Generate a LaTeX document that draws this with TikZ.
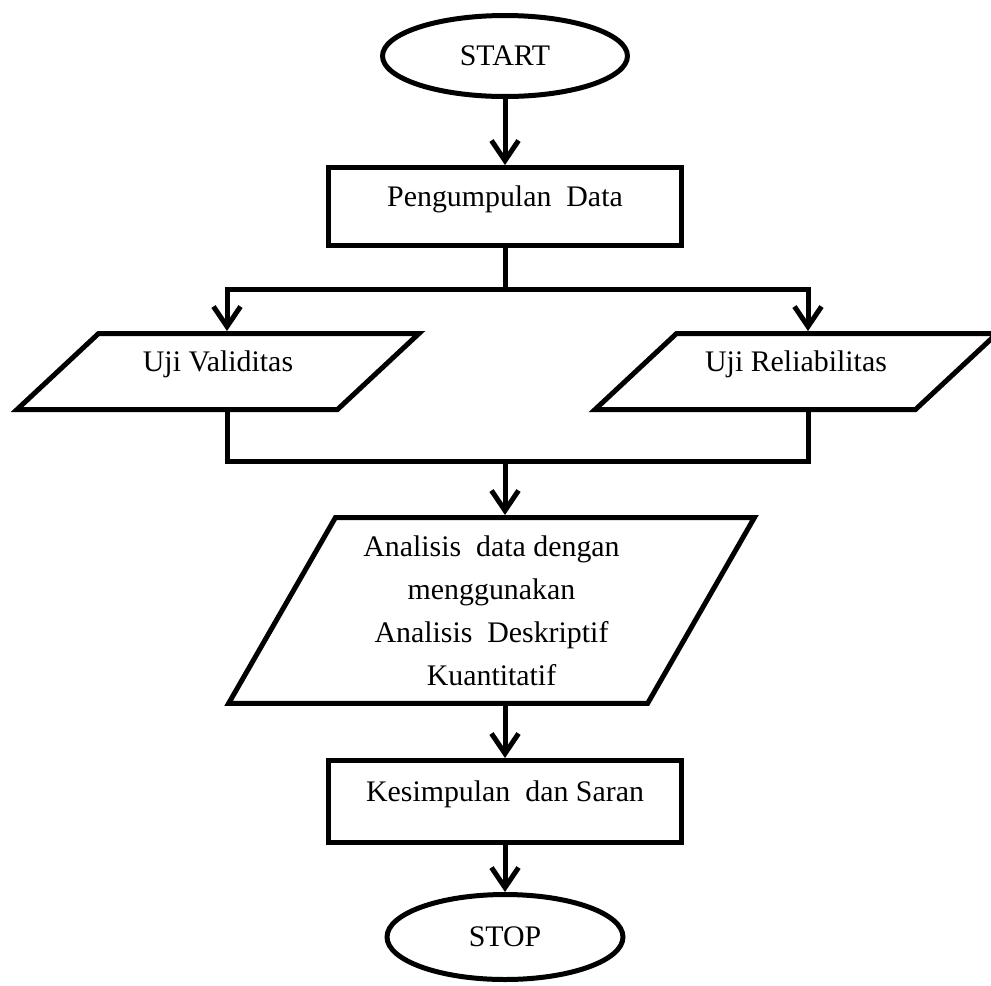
\documentclass[tikz,border=0pt]{standalone}
\usepackage{fontspec}
\setmainfont{Liberation Serif}
\usetikzlibrary{arrows.meta,shapes.geometric}
\usetikzlibrary{positioning}

\tikzset{
  flowline/.style={line width=0.1cm},
  flow/.style={flowline,-{Straight Barb[length=0.4cm,width=0.54cm]}},
  midtext/.style={text height=0.4cm,text depth=0.42cm},
  terminal/.style={draw,flowline,ellipse,inner sep=0pt,minimum width=4.9cm,minimum height=1.62cm},
  process/.style={draw,flowline,rectangle,inner sep=0pt,minimum width=7.08cm,minimum height=1.56cm,midtext},
  io/.style={draw,flowline,trapezium,trapezium left angle=43,trapezium right angle=137,
    trapezium stretches body,inner xsep=0pt,inner ysep=0.35cm,minimum width=8.04cm,minimum height=1.52cm}
}

\begin{document}
\begin{tikzpicture}[x=0.02cm,y=-0.02cm,font=\fontsize{17pt}{24.5pt}\selectfont]

           \useasboundingbox (0,0) rectangle (991,985);

           \node [terminal] (start) at (505,56){START};
           \node [process] (data) at (505,206.5){Pengumpulan~ Data};

           \node [io,midtext] (valid) at (218,371.5){Uji Validitas};
           \node [io,midtext] (relia) at (796,371.5){Uji Reliabilitas};

           \node [io,align=center,trapezium left angle=60,trapezium right angle=120,
                  minimum width=10.52cm,minimum height=3.72cm] (analisis) at (491.5,610.5)
                 {Analisis~ data dengan\\ menggunakan\\ Analisis~ Deskriptif\\ Kuantitatif};

           \node [process,minimum height=1.64cm] (kes) at (505,801.5){Kesimpulan~ dan Saran};
           \node [terminal,minimum width=4.72cm,minimum height=1.7cm] (stop) at (505,937){STOP};

           \coordinate (fork) at (505,289);
           \coordinate (forkL) at (227,289);
           \coordinate (forkR) at (808,289);
           \coordinate (merge) at (505,461);

           \draw [flow] (start) -- (data);

           \draw [flowline] (data) -- (fork);
           \draw [flow] (fork) -- (forkL) -- (forkL |- valid.north);
           \draw [flow] (fork) -- (forkR) -- (forkR |- relia.north);

           \draw [flowline] (forkL |- valid.south) |- (merge) -| (forkR |- relia.south);
           \draw [flow] (merge) -- (merge |- analisis.north);

           \draw [flow] (merge |- analisis.south) -- (kes);
           \draw [flow] (kes) -- (stop);

        \end{tikzpicture}
\end{document}
